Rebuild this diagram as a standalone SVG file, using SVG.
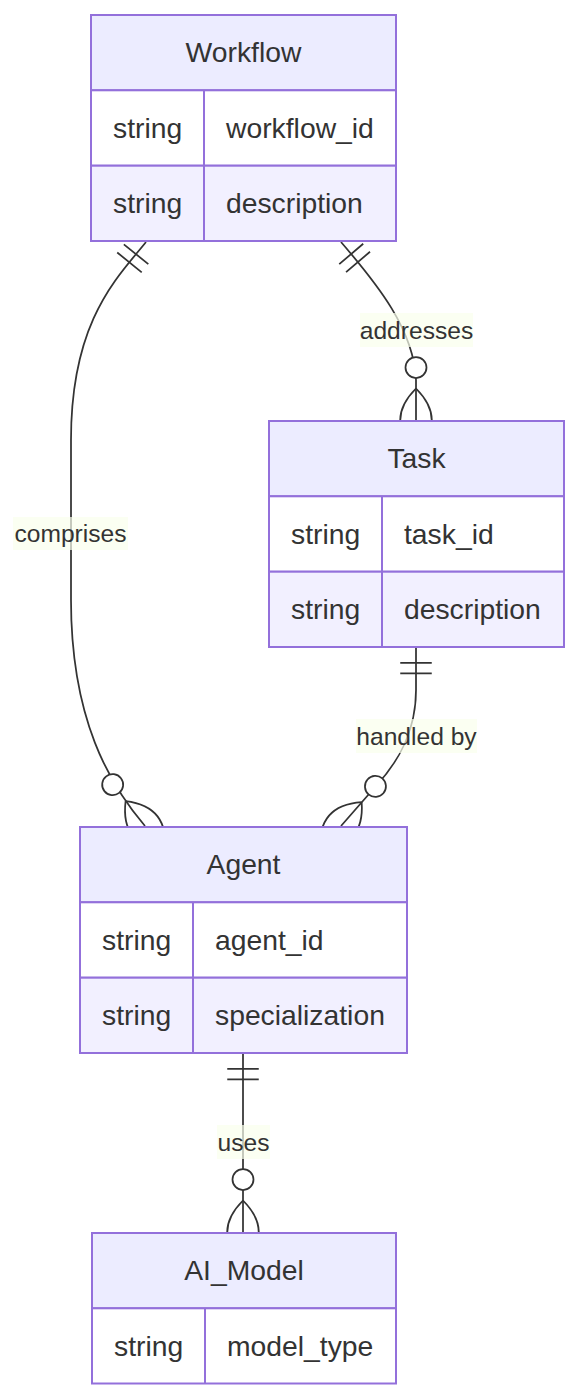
<svg xmlns="http://www.w3.org/2000/svg" xmlns:xlink="http://www.w3.org/1999/xlink" width="578" height="1398" viewBox="0 0 578 1398">
<style>
.hdr{fill:#ECECFF;stroke:#9370DB;stroke-width:2}
.odd{fill:#FFFFFF;stroke:#9370DB;stroke-width:2}
.even{fill:#F2F0FF;stroke:#9370DB;stroke-width:2}
.div{stroke:#9370DB;stroke-width:2}
.t{font-family:"Liberation Sans",Arial,sans-serif;font-size:28.3px;fill:#333333}
.c{text-anchor:middle}
.edge{fill:none;stroke:#333333;stroke-width:1.75}
.mk{fill:none;stroke:#333333;stroke-width:1.75}
.mkc{fill:#FFFFFF;stroke:#333333;stroke-width:1.75}
.lb{fill:#F9FFEC;opacity:0.7}
.lt{font-family:"Liberation Sans",Arial,sans-serif;font-size:24.6px;fill:#333333;text-anchor:middle}
</style>
<defs>
<g id="zeroOrMore">
<path class="mk" d="M0,-31.5 Q31.5,0 0,31.5 M0,-31.5 Q-31.5,0 0,31.5"/>
<circle class="mkc" cx="0" cy="-52.5" r="10.5"/>
</g>
<g id="onlyOne">
<path class="mk" d="M-15.75,15.75 L15.75,15.75 M-15.75,26.25 L15.75,26.25"/>
</g>
</defs>
<rect width="578" height="1398" fill="#FFFFFF"/>
<g id="connectors">
<path class="edge" d="M146,242 C118,277 71,320 71,440 L71,600 C71,720 110,785 145,826"/>
<use xlink:href="#onlyOne" transform="translate(146,242) rotate(39)"/>
<use xlink:href="#zeroOrMore" transform="translate(145,826) rotate(-38)"/>
<path class="edge" d="M341,242 C378,285 414,330 416,380 L416,420"/>
<use xlink:href="#onlyOne" transform="translate(341,242) rotate(-40.5)"/>
<use xlink:href="#zeroOrMore" transform="translate(416,420)"/>
<path class="edge" d="M416,647 L416,690 C416,730 400,760 376,786 L341,826"/>
<use xlink:href="#onlyOne" transform="translate(416,647)"/>
<use xlink:href="#zeroOrMore" transform="translate(341,826) rotate(41)"/>
<path class="edge" d="M243,1053 L243,1232"/>
<use xlink:href="#onlyOne" transform="translate(243,1053)"/>
<use xlink:href="#zeroOrMore" transform="translate(243,1232)"/>
</g>
<g id="edge-labels">
<rect class="lb" x="13" y="517" width="115" height="33"/>
<text class="lt" x="70.5" y="542">comprises</text>
<rect class="lb" x="360" y="313" width="113" height="34"/>
<text class="lt" x="416.5" y="338.5">addresses</text>
<rect class="lb" x="356" y="719" width="121" height="34"/>
<text class="lt" x="416.5" y="744.5">handled by</text>
<rect class="lb" x="217" y="1125" width="53" height="34"/>
<text class="lt" x="243.5" y="1150.5">uses</text>
</g>
<g id="Workflow">
<rect class="hdr" x="91" y="15" width="305" height="75.3"/>
<rect class="odd" x="91" y="90.3" width="305" height="75.4"/>
<rect class="even" x="91" y="165.7" width="305" height="75.3"/>
<line class="div" x1="204" y1="90.3" x2="204" y2="241"/>
<text class="t c" x="243.5" y="62">Workflow</text>
<text class="t" x="113" y="138">string</text>
<text class="t" x="226" y="138">workflow_id</text>
<text class="t" x="113" y="213.3">string</text>
<text class="t" x="226" y="213.3">description</text>
</g>
<g id="Task">
<rect class="hdr" x="269" y="421" width="295" height="75.3"/>
<rect class="odd" x="269" y="496.3" width="295" height="75.4"/>
<rect class="even" x="269" y="571.7" width="295" height="75.3"/>
<line class="div" x1="382" y1="496.3" x2="382" y2="647"/>
<text class="t c" x="416.5" y="468">Task</text>
<text class="t" x="291" y="544">string</text>
<text class="t" x="404" y="544">task_id</text>
<text class="t" x="291" y="619.3">string</text>
<text class="t" x="404" y="619.3">description</text>
</g>
<g id="Agent">
<rect class="hdr" x="80" y="827" width="327" height="75.3"/>
<rect class="odd" x="80" y="902.3" width="327" height="75.4"/>
<rect class="even" x="80" y="977.7" width="327" height="75.3"/>
<line class="div" x1="193" y1="902.3" x2="193" y2="1053"/>
<text class="t c" x="243.5" y="874">Agent</text>
<text class="t" x="102" y="950">string</text>
<text class="t" x="215" y="950">agent_id</text>
<text class="t" x="102" y="1025.3">string</text>
<text class="t" x="215" y="1025.3">specialization</text>
</g>
<g id="AI_Model">
<rect class="hdr" x="92" y="1233" width="304" height="75.3"/>
<rect class="odd" x="92" y="1308.3" width="304" height="75.2"/>
<line class="div" x1="205" y1="1308.3" x2="205" y2="1383.5"/>
<text class="t c" x="244" y="1280">AI_Model</text>
<text class="t" x="114" y="1356">string</text>
<text class="t" x="227" y="1356">model_type</text>
</g>
</svg>
